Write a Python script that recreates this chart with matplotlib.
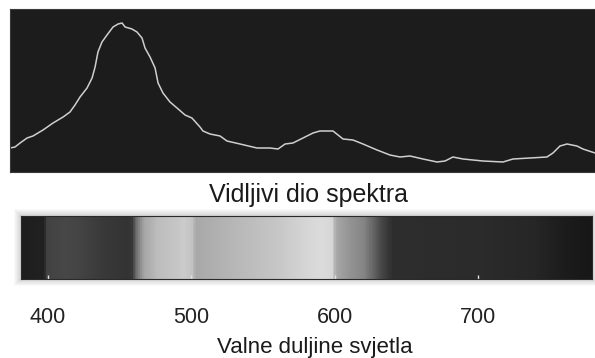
import numpy as np
import matplotlib.pyplot as plt
from matplotlib.colors import LinearSegmentedColormap
from matplotlib.patches import Rectangle

plt.rcParams['font.family'] = ['Liberation Sans', 'DejaVu Sans']

# apsorpcijska krivulja (valna duljina u nm, relativni intenzitet)
valna_duljina = [373.5, 377.0, 380.5, 385.4, 389.5, 396.5, 403.5, 410.5, 415.3, 418.8,
                 422.3, 427.2, 430.7, 432.8, 434.8, 437.6, 441.1, 445.3, 448.8, 451.6,
                 453.7, 458.5, 462.0, 465.5, 467.6, 471.1, 474.6, 476.7, 480.1, 485.0,
                 489.9, 495.5, 500.3, 505.9, 508.0, 512.9, 519.9, 524.7, 533.8, 545.6,
                 554.7, 560.3, 565.2, 570.7, 577.7, 584.7, 589.5, 598.6, 605.6, 612.5,
                 619.5, 629.3, 638.3, 645.3, 652.3, 661.3, 671.1, 676.7, 682.2, 689.2,
                 703.1, 717.1, 724.0, 735.9, 747.7, 751.9, 756.8, 761.7, 768.6, 772.8,
                 779.1, 781.2]
intenzitet = [24, 25, 29, 34, 36, 42, 49, 55, 60, 67,
              75, 84, 94, 105, 120, 130, 137, 145, 148, 149,
              145, 143, 140, 134, 124, 115, 104, 89, 79, 70,
              64, 57, 54, 45, 41, 38, 36, 31, 28, 24,
              24, 23, 28, 29, 34, 39, 41, 41, 33, 32,
              28, 22, 17, 15, 16, 13, 10, 11, 15, 13,
              11, 10, 13, 14, 15, 19, 26, 28, 26, 23,
              20, 19]

# sivi tonovi trake spektra
traka_nm = [381, 396, 398, 410, 420, 440, 455, 458, 460, 466, 475, 490, 494, 500, 502,
            520, 540, 560, 580, 590, 598, 600, 610, 620, 626, 632, 640, 700, 740, 760, 779]
traka_siva = [0.12, 0.13, 0.26, 0.28, 0.27, 0.22, 0.20, 0.22, 0.42, 0.65, 0.74, 0.78,
              0.80, 0.76, 0.66, 0.70, 0.74, 0.78, 0.84, 0.86, 0.84, 0.66, 0.58, 0.52,
              0.40, 0.28, 0.18, 0.17, 0.15, 0.11, 0.09]

oznake = [400, 500, 600, 700]

fig = plt.figure(figsize=(5.95, 3.58), dpi=100)
W, H = 595, 358


def px_box(x0, y0, x1, y1):
    return [x0 / W, 1 - y1 / H, (x1 - x0) / W, (y1 - y0) / H]


# gornji panel s krivuljom
ax = fig.add_axes(px_box(10, 9, 595, 172))
ax.set_facecolor('#1c1c1c')
ax.plot(valna_duljina, intenzitet, color='#cfcfcf', lw=1.1)
ax.set_xlim(373.5, 781.2)
ax.set_ylim(0, 163)
ax.set_xticks([])
ax.set_yticks([])
for s in ax.spines.values():
    s.set_color('#3a3a3a')

# sjena oko trake (ispod osi)
for i in range(1, 8):
    fig.patches.append(Rectangle(((20.7 - i) / W, 1 - (279 + i) / H),
                                 (571.3 + 2 * i) / W, (63 + 2 * i) / H,
                                 transform=fig.transFigure, color='black',
                                 alpha=0.025, lw=0, zorder=-1))

# traka vidljivog spektra
bx = fig.add_axes(px_box(20.7, 216, 592, 279))
bx.set_zorder(2)
tocke = [(n - traka_nm[0]) / (traka_nm[-1] - traka_nm[0]) for n in traka_nm]
cmap = LinearSegmentedColormap.from_list('siva', list(zip(tocke, [(g, g, g) for g in traka_siva])))
nm = np.linspace(traka_nm[0], traka_nm[-1], 800)
bx.imshow(nm[np.newaxis, :], cmap=cmap, aspect='auto',
          extent=(traka_nm[0], traka_nm[-1], 0, 1), vmin=traka_nm[0], vmax=traka_nm[-1])
bx.set_xlim(381.0, 779.1)
bx.set_ylim(0, 1)
bx.set_yticks([])
bx.set_xticks(oznake)
bx.set_xticklabels([str(o) for o in oznake], fontsize=15.5, color='#222222')
bx.tick_params(axis='x', direction='in', length=3, width=1, color='#e0e0e0', pad=20)
for s in bx.spines.values():
    s.set_color('#2a2a2a')
    s.set_linewidth(0.8)

fig.text(308 / W, 1 - 202 / H, 'Vidljivi dio spektra', fontsize=18,
         ha='center', va='baseline', color='#1a1a1a')
fig.text(315 / W, 1 - 353 / H, 'Valne duljine svjetla', fontsize=16,
         ha='center', va='baseline', color='#1a1a1a')

fig.savefig('out.png', dpi=100, facecolor='white')
